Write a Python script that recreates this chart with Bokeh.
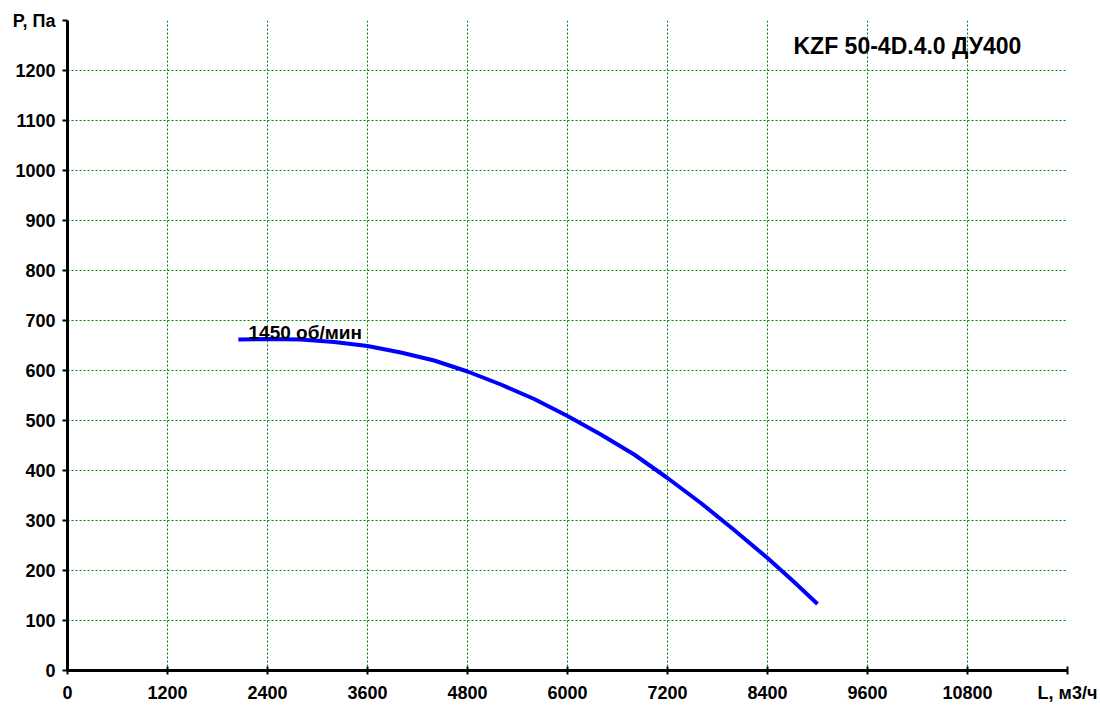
from bokeh.plotting import figure
from bokeh.models import Range1d, FixedTicker
from bokeh.embed import file_html
from bokeh.resources import INLINE
from bokeh.core.properties import value

# ---- data ----
flow = [2050, 2400, 2800, 3200, 3600, 4000, 4400, 4800, 5200, 5600, 6000,
        6400, 6800, 7200, 7600, 8000, 8400, 8700, 9000]
pressure = [662, 663, 662, 657, 649, 636, 620, 598, 572, 543, 509,
            472, 432, 385, 335, 281, 225, 180, 133]
x_ticks = [0, 1200, 2400, 3600, 4800, 6000, 7200, 8400, 9600, 10800, 12000]
y_ticks = [0, 100, 200, 300, 400, 500, 600, 700, 800, 900, 1000, 1100, 1200, 1300]
title_text = "KZF 50-4D.4.0 ДУ400"
curve_label = "1450 об/мин"
x_label = "L, м3/ч"
y_label = "P, Па"

FONT = "Liberation Sans"

p = figure(frame_width=1000, frame_height=650,
           x_range=Range1d(0, 12000), y_range=Range1d(0, 1300),
           output_backend="svg", toolbar_location=None,
           min_border_left=67, min_border_top=20, min_border_right=33, min_border_bottom=40)
p.outline_line_color = None
p.background_fill_color = "white"
p.border_fill_color = "white"

for ax in (p.xaxis[0], p.yaxis[0]):
    ax.axis_line_width = 3
    ax.axis_line_color = "black"
    ax.major_tick_line_width = 2
    ax.major_tick_line_color = "black"
    ax.minor_tick_line_color = None
    ax.major_label_text_font = FONT
    ax.major_label_text_font_style = "bold"
    ax.major_label_text_font_size = "18px"
    ax.major_label_text_color = "black"

p.xaxis.ticker = FixedTicker(ticks=x_ticks)
p.yaxis.ticker = FixedTicker(ticks=y_ticks)
p.xaxis.major_label_overrides = {12000: x_label}
p.yaxis.major_label_overrides = {1300: y_label}
p.xaxis.major_tick_in = 4
p.xaxis.major_tick_out = 4
p.xaxis.major_label_standoff = 8
p.yaxis.major_tick_in = 0
p.yaxis.major_tick_out = 5
p.yaxis.major_label_standoff = 7

for g in (p.xgrid[0], p.ygrid[0]):
    g.grid_line_color = "#008000"
    g.grid_line_dash = "2 2"
    g.grid_line_width = 1

p.line(flow, pressure, line_color="#0000FF", line_width=4, line_join="round")

p.text(x=[2172], y=[676], text=[curve_label], text_font=value(FONT),
       text_font_style="bold", text_font_size="19px", text_color="black",
       text_baseline="alphabetic", text_align="left")

p.text(x=[8712], y=[1250], text=[title_text], text_font=value(FONT),
       text_font_style="bold", text_font_size="23px", text_color="black",
       text_baseline="middle", text_align="left")

open("out.html", "w").write(file_html(p, INLINE))
